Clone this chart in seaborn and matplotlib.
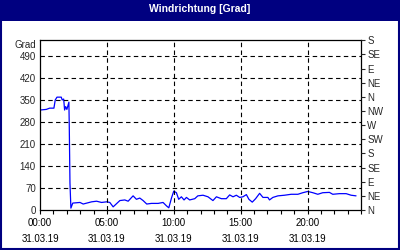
import matplotlib
matplotlib.use("Agg")
import matplotlib.pyplot as plt
import seaborn as sns
import pandas as pd
from matplotlib.patches import Rectangle
from matplotlib.ticker import MultipleLocator

hours = [0.0, 0.47, 0.72, 1.04, 1.14, 1.27, 1.59, 1.66, 1.77, 1.84, 1.92, 2.01, 2.16,
         2.19, 2.24, 2.31, 2.45, 2.99, 3.23, 3.86, 4.23, 4.6, 4.98, 5.22, 5.47, 5.72,
         5.97, 6.34, 6.59, 6.96, 7.21, 7.46, 7.71, 7.98, 8.33, 8.83, 9.2, 9.46, 9.63,
         9.83, 10.0, 10.2, 10.37, 10.57, 10.77, 10.95, 11.19, 11.57, 11.8, 12.19, 12.56,
         12.93, 13.19, 13.56, 13.93, 14.18, 14.43, 14.68, 14.93, 15.17, 15.43, 15.62,
         15.87, 16.12, 16.42, 16.67, 17.04, 17.16, 17.41, 17.79, 18.28, 18.78, 19.28,
         19.65, 20.02, 20.4, 20.77, 21.14, 21.64, 21.89, 22.39, 22.89, 23.26, 23.63]
direction = [318, 320, 324, 324, 350, 359, 359, 350, 353, 318, 329, 320, 343,
             261, 86, 6, 22, 24, 19, 26, 28, 24, 26, 24, 10, 20,
             30, 32, 28, 45, 34, 38, 30, 19, 21, 21, 24, 13, 7,
             38, 60, 55, 34, 42, 32, 40, 32, 36, 45, 47, 42,
             30, 42, 36, 36, 48, 42, 47, 40, 42, 49, 34,
             25, 36, 53, 40, 40, 32, 40, 45, 47, 50, 50,
             55, 59, 55, 50, 55, 56, 50, 52, 52, 47, 45]

y_ticks = [0, 70, 140, 210, 280, 350, 420, 490]
x_ticks = [0, 5, 10, 15, 20]
x_labels = ["00:00\n31.03.19", "05:00\n31.03.19", "10:00\n31.03.19",
            "15:00\n31.03.19", "20:00\n31.03.19"]
compass_vals = [0, 45, 90, 135, 180, 225, 270, 315, 360, 405, 450, 495, 540]
compass_labels = ["N", "NE", "E", "SE", "S", "SW", "W", "NW", "N", "NE", "E", "SE", "S"]
title = "Windrichtung [Grad]"

sns.set_style("white")
plt.rcParams["font.family"] = ["Liberation Sans", "DejaVu Sans"]

navy = "#000080"
fs = 7
fig = plt.figure(figsize=(4, 2.5), dpi=100)
ax = fig.add_axes([0.1, 0.16, 0.8025, 0.679])

df = pd.DataFrame({"h": hours, "v": direction})
sns.lineplot(data=df, x="h", y="v", ax=ax, color="#0000ff", lw=0.9,
             estimator=None, sort=False)

ax.set_xlim(0, 24)
ax.set_ylim(0, 540)
ax.set_xlabel("")
ax.set_ylabel("")
ax.set_yticks(y_ticks)
ax.set_yticklabels([str(v) for v in y_ticks], fontsize=fs)
ax.set_xticks(x_ticks)
ax.set_xticklabels(x_labels, fontsize=fs)
for lbl in ax.get_xticklabels():
    lbl.set_linespacing(1.75)
ax.xaxis.set_minor_locator(MultipleLocator(1))
ax.tick_params(axis="x", which="both", direction="out", length=3, width=0.8,
               pad=3, bottom=True, colors="black")
ax.tick_params(axis="y", which="both", length=0, pad=3)

ax.grid(False)
for v in y_ticks[1:]:
    ax.axhline(v, color="black", lw=0.8, ls=(0, (4, 3)))
for v in x_ticks[1:]:
    ax.axvline(v, color="black", lw=0.8, ls=(0, (4, 3)))
for s in ax.spines.values():
    s.set_color("black")
    s.set_linewidth(0.9)

ax2 = ax.twinx()
ax2.set_ylim(0, 540)
ax2.set_yticks(compass_vals)
ax2.set_yticklabels(compass_labels, fontsize=fs)
ax2.tick_params(axis="y", direction="out", length=3, width=0.8, pad=1.5)
ax2.grid(False)
for s in ax2.spines.values():
    s.set_visible(False)

ax.annotate("Grad", xy=(0, 1), xycoords="axes fraction", xytext=(-3, -3.5),
            textcoords="offset points", ha="right", va="center", fontsize=fs)

fig.patches.append(Rectangle((0, 1 - 21 / 250), 1, 21 / 250, transform=fig.transFigure,
                             facecolor=navy, edgecolor="none", zorder=0))
fig.patches.append(Rectangle((0.0025, 0.004), 0.995, 0.992, transform=fig.transFigure,
                             facecolor="none", edgecolor=navy, lw=1.5, zorder=5))
fig.text(0.5, 1 - 9 / 250, title, ha="center", va="center", color="white",
         fontsize=7.5, fontweight="bold")

fig.savefig("out.png", dpi=100)
